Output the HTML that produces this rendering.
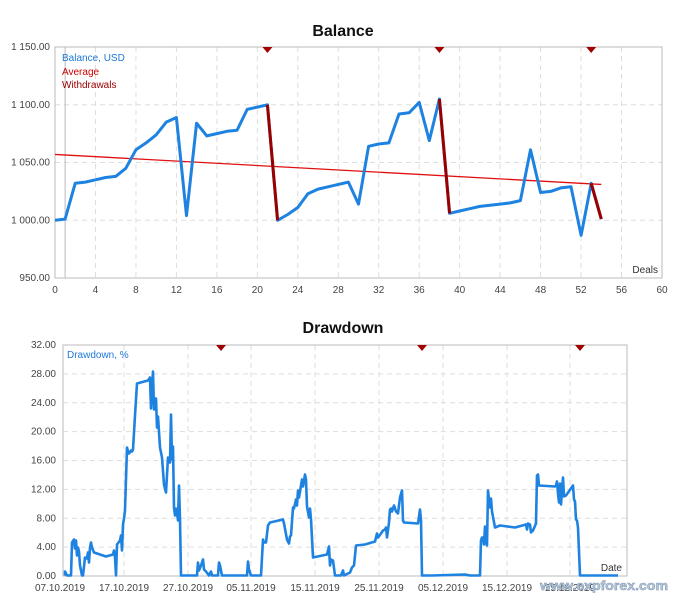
<!DOCTYPE html>
<html><head><meta charset="utf-8"><style>
html,body{margin:0;padding:0;background:#fff;width:676px;height:600px;overflow:hidden}
svg{display:block;font-family:"Liberation Sans","DejaVu Sans",sans-serif}
.t{font-size:10px;fill:#444}
</style></head><body>
<svg id="s" width="676" height="600" xmlns="http://www.w3.org/2000/svg">
<text x="343" y="36" text-anchor="middle" font-size="16" font-weight="bold" fill="#111">Balance</text>
<text x="343" y="333" text-anchor="middle" font-size="16" font-weight="bold" fill="#111">Drawdown</text>
<g id="g"></g>
<text x="540" y="590" font-size="13" font-weight="bold" fill="#b8c8dc" stroke="#7f95b0" stroke-width="0.5" textLength="128" lengthAdjust="spacingAndGlyphs">www.expforex.com</text>
</svg>
<script>
var g=document.getElementById('g'),h='';
function L(x1,y1,x2,y2,c,w,d){h+='<line x1="'+x1+'" y1="'+y1+'" x2="'+x2+'" y2="'+y2+'" stroke="'+c+'" stroke-width="'+(w||1)+'"'+(d?' stroke-dasharray="'+d+'"':'')+'/>';}
function T(x,y,s,a,c,cls){h+='<text x="'+x+'" y="'+y+'" text-anchor="'+(a||'start')+'" class="'+(cls||'t')+'"'+(c?' style="fill:'+c+'"':'')+'>'+s+'</text>';}
function tri(x,y){h+='<polygon points="'+(x-5)+','+y+' '+(x+5)+','+y+' '+x+','+(y+6)+'" fill="#a00000"/>';}
var X0=55,X1=662,Y0=47,Y1=278;
function bx(d){return X0+d*(X1-X0)/60;}
function by(v){return Y0+(1150-v)*(Y1-Y0)/200;}
for(var d=4;d<60;d+=4)L(bx(d),Y0,bx(d),Y1,'#ddd',1,'5,4');
[1100,1050,1000].forEach(function(v){L(X0,by(v),X1,by(v),'#ddd',1,'5,4');});
h+='<rect x="'+X0+'" y="'+Y0+'" width="'+(X1-X0)+'" height="'+(Y1-Y0)+'" fill="none" stroke="#bbb"/>';
L(bx(1),Y0,bx(1),Y1,'#bbb');
[[1150,'1 150.00'],[1100,'1 100.00'],[1050,'1 050.00'],[1000,'1 000.00'],[950,'950.00']].forEach(function(a){T(X0-5,by(a[0])+3,a[1],'end');});
for(var d=0;d<=60;d+=4)T(bx(d),293,d,'middle');
T(658,273,'Deals','end','#333');
T(62,61,'Balance, USD','start','#1e78d8');
T(62,75,'Average','start','#d00000');
T(62,88,'Withdrawals','start','#a00000');
var B=[1000,1001,1032,1033,1035,1037,1038,1045,1061,1067,1074,1085,1089,1004,1084,1073,1075,1077,1078,1096,1098,1100,1000,1005,1011,1023,1027,1029,1031,1033,1014,1064,1066,1067,1092,1093,1102,1069,1105,1006,1008,1010,1012,1013,1014,1015,1017,1061,1024,1025,1028,1029,987,1032,1001];
L(bx(0),by(1057),bx(54),by(1031),'#e01010',1.3);
var wd={22:1,39:1,54:1};
var p='';
for(var i=0;i<B.length;i++){p+=(i?'L':'M')+bx(i).toFixed(1)+','+by(B[i]).toFixed(1);}
h+='<path d="'+p+'" fill="none" stroke="#1e82e0" stroke-width="3" stroke-linejoin="round"/>';
for(var k in wd){L(bx(k-1),by(B[k-1]),bx(+k),by(B[k]),'#9a0000',3);}
[21,38,53].forEach(function(d){tri(bx(d),Y0);});
var A0=63,A1=627,C0=345,C1=576;
function dy(v){return C1-v*(C1-C0)/32;}
[124,188,251,315,379,443,507,570].forEach(function(x){L(x,C0,x,C1,'#ddd',1,'5,4');});
for(var v=4;v<32;v+=4)L(A0,dy(v),A1,dy(v),'#ddd',1,'5,4');
h+='<rect x="'+A0+'" y="'+C0+'" width="'+(A1-A0)+'" height="'+(C1-C0)+'" fill="none" stroke="#bbb"/>';
for(var v=0;v<=32;v+=4)T(A0-7,dy(v)+3,v.toFixed(2),'end');
var dates=['07.10.2019','17.10.2019','27.10.2019','05.11.2019','15.11.2019','25.11.2019','05.12.2019','15.12.2019','25.12.2019'];
[60,124,188,251,315,379,443,507,570].forEach(function(x,i){T(x,591,dates[i],'middle');});
T(622,571,'Date','end','#333');
T(67,358,'Drawdown, %','start','#1e78d8');
var D=[65,576,65,572,67,576,71,576,72,543,74,540,75,549,76,541,77,556,78,548,79,552,80,566,82,576,83,576,85,558,87,559,88,553,89,563,90,548,91,543,92,548,94,553,106,557,113,555,114,551,115,558,116,576,117,545,120,541,121,536,122,551,123,525,124,519,125,511,127,448,128,452,129,454,131,451,132,452,133,450,135,416,137,384,148,381,150,378,151,409,152,389,153,372,154,410,156,399,157,428,158,417,160,448,162,458,164,485,166,493,168,458,170,463,171,415,172,460,173,447,174,508,175,516,176,509,177,514,178,521,179,486,180,520,181,576,197,576,198,563,199,571,201,566,203,560,204,570,206,572,209,576,211,572,212,576,218,576,219,563,220,566,222,576,247,576,248,562,249,570,251,576,261,576,263,540,264,543,266,543,268,526,270,523,283,520,284,524,287,540,289,544,290,537,291,536,293,508,294,509,296,500,297,506,298,491,299,498,300,492,302,480,303,487,305,475,306,480,307,507,309,518,310,509,311,520,313,558,327,555,329,547,330,566,331,560,333,561,335,576,341,576,343,571,344,576,350,573,352,568,354,566,356,546,365,545,375,542,376,538,377,534,378,538,381,534,383,531,385,530,386,528,387,538,389,523,390,510,391,509,392,512,394,506,396,512,398,514,400,498,402,491,403,521,404,523,418,524,420,510,421,521,422,576,432,576,465,575,470,576,480,576,481,541,482,538,483,538,484,545,485,527,486,542,487,546,488,491,489,500,490,508,491,499,492,512,495,528,500,526,515,528,526,525,527,530,528,524,530,525,531,533,533,531,536,524,537,476,538,475,539,486,555,487,556,486,557,482,558,494,559,503,560,484,561,505,563,478,564,497,566,496,573,486,574,500,575,502,576,520,577,521,578,528,580,576,618,576];
p='';
for(var i=0;i<D.length;i+=2)p+=(i?'L':'M')+D[i]+','+(D[i+1]-0.5);
h+='<path d="'+p+'" fill="none" stroke="#1e82e0" stroke-width="2.6" stroke-linejoin="round"/>';
[221,422,580].forEach(function(x){tri(x,C0);});
g.innerHTML=h;
</script>
</body></html>
